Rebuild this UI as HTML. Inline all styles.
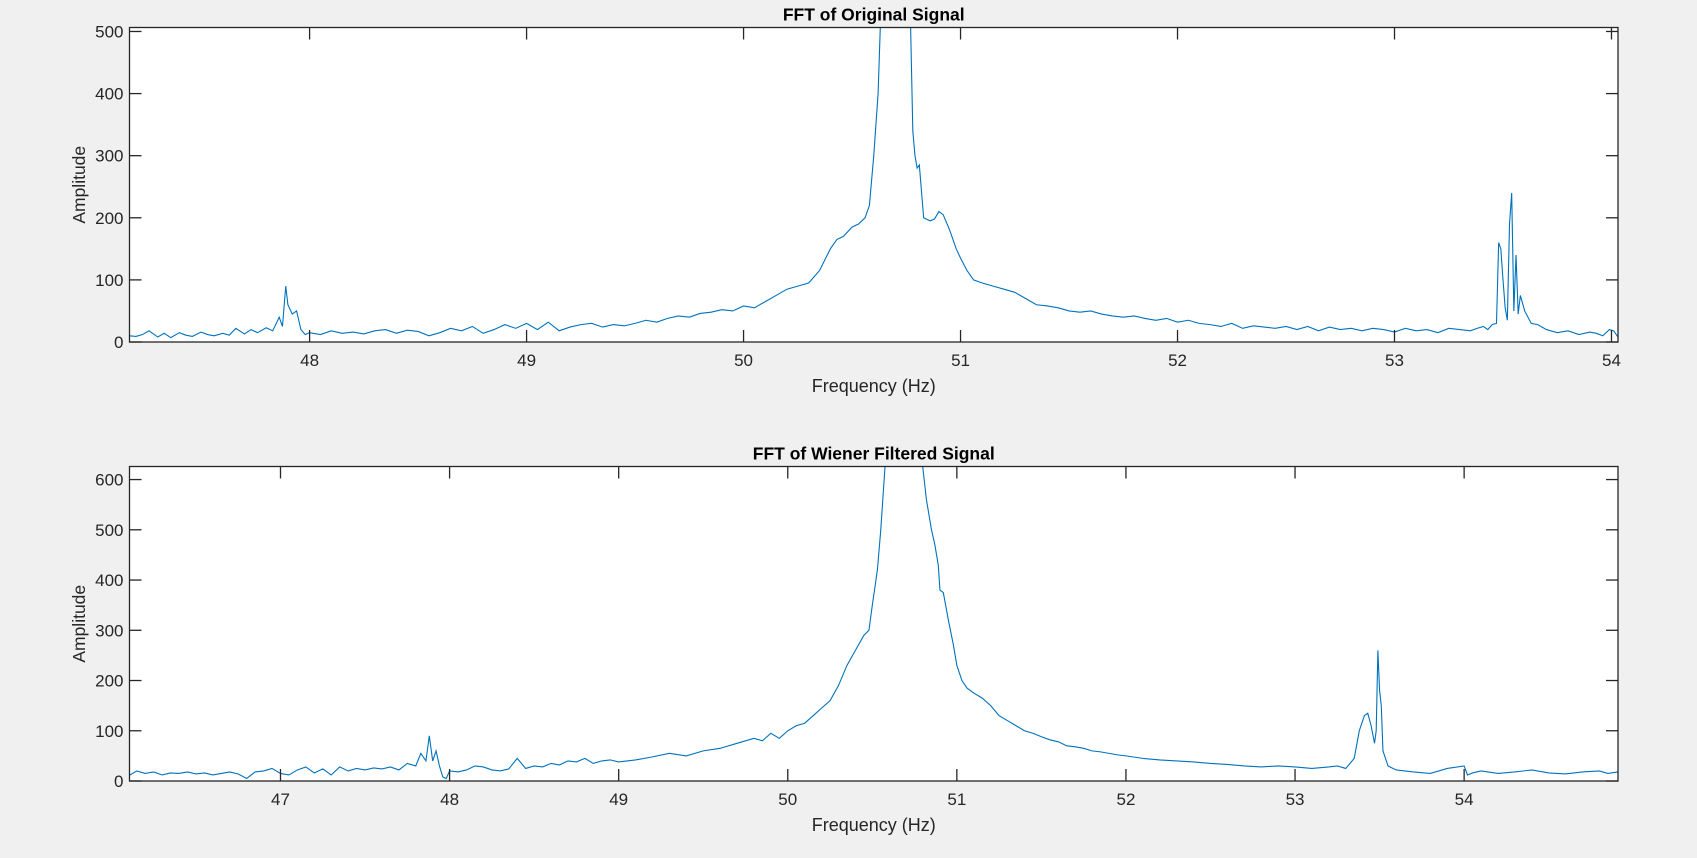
<!DOCTYPE html>
<html><head><meta charset="utf-8">
<style>
html,body{margin:0;padding:0;background:#f0f0f0;}
svg{display:block;font-family:"Liberation Sans",Arial,sans-serif;}
</style></head>
<body>
<svg id="fig" width="1697" height="858" viewBox="0 0 1697 858" xmlns="http://www.w3.org/2000/svg">
<rect x="0" y="0" width="1697" height="858" fill="#f0f0f0"/>
<g id="p1"></g>
<g id="p2"></g>
</svg>
<script>
// ---- Top chart data: FFT of Original Signal ----
const origFreq = [47.17,47.2,47.23,47.26,47.3,47.33,47.36,47.4,47.43,47.46,47.5,47.53,47.56,47.6,47.63,47.66,47.7,47.73,47.76,47.8,47.83,47.86,47.875,47.89,47.9,47.92,47.94,47.96,47.98,48.0,48.05,48.1,48.15,48.2,48.25,48.3,48.35,48.4,48.45,48.5,48.55,48.6,48.65,48.7,48.75,48.8,48.85,48.9,48.95,49.0,49.05,49.1,49.15,49.2,49.25,49.3,49.35,49.4,49.45,49.5,49.55,49.6,49.65,49.7,49.75,49.8,49.85,49.9,49.95,50.0,50.05,50.1,50.15,50.2,50.25,50.3,50.35,50.4,50.43,50.46,50.5,50.53,50.56,50.58,50.6,50.62,50.63,50.65,50.7,50.75,50.77,50.78,50.79,50.8,50.81,50.83,50.86,50.88,50.9,50.92,50.95,50.98,51.0,51.03,51.06,51.1,51.15,51.2,51.25,51.3,51.35,51.4,51.45,51.5,51.55,51.6,51.65,51.7,51.75,51.8,51.85,51.9,51.95,52.0,52.05,52.1,52.15,52.2,52.25,52.3,52.35,52.4,52.45,52.5,52.55,52.6,52.65,52.7,52.75,52.8,52.85,52.9,52.95,53.0,53.05,53.1,53.15,53.2,53.25,53.3,53.35,53.38,53.41,53.43,53.45,53.47,53.48,53.49,53.5,53.51,53.52,53.53,53.54,53.55,53.56,53.57,53.58,53.6,53.63,53.66,53.7,53.75,53.8,53.85,53.9,53.93,53.96,53.99,54.01,54.03];
const origAmp = [10,9,12,18,8,14,7,15,11,9,16,12,10,14,11,22,13,20,15,23,18,40,25,90,60,45,50,20,12,15,12,18,14,16,13,18,20,14,19,17,10,15,22,18,25,14,20,28,22,30,20,32,18,24,28,30,24,28,26,30,35,32,38,42,40,46,48,52,50,58,55,65,75,85,90,95,115,150,165,170,185,190,200,220,300,400,505,1200,1400,1200,505,340,300,280,285,200,195,198,210,205,180,150,135,115,100,95,90,85,80,70,60,58,55,50,48,50,45,42,40,42,38,35,38,32,35,30,28,25,30,22,26,24,22,25,20,25,18,24,20,22,18,22,20,16,22,18,20,15,22,20,18,22,25,20,28,30,160,150,100,55,35,190,240,50,140,45,75,50,30,28,20,15,18,12,16,14,10,20,18,8];
// ---- Bottom chart data: FFT of Wiener Filtered Signal ----
const wienFreq = [46.11,46.15,46.2,46.25,46.3,46.35,46.4,46.45,46.5,46.55,46.6,46.65,46.7,46.75,46.8,46.85,46.9,46.95,47.0,47.05,47.1,47.15,47.2,47.25,47.3,47.35,47.4,47.45,47.5,47.55,47.6,47.65,47.7,47.75,47.8,47.83,47.86,47.88,47.9,47.92,47.94,47.96,47.98,48.0,48.05,48.1,48.15,48.2,48.25,48.3,48.35,48.4,48.45,48.5,48.55,48.6,48.65,48.7,48.75,48.8,48.85,48.9,48.95,49.0,49.1,49.2,49.3,49.4,49.5,49.6,49.7,49.8,49.85,49.9,49.95,50.0,50.05,50.1,50.15,50.2,50.25,50.3,50.35,50.4,50.45,50.48,50.5,50.53,50.55,50.58,50.6,50.62,50.65,50.7,50.75,50.77,50.79,50.8,50.82,50.85,50.87,50.89,50.9,50.92,50.95,50.98,51.0,51.03,51.06,51.1,51.15,51.2,51.25,51.3,51.35,51.4,51.45,51.5,51.55,51.6,51.65,51.7,51.75,51.8,51.85,51.9,51.95,52.0,52.1,52.2,52.3,52.4,52.5,52.6,52.7,52.8,52.9,53.0,53.1,53.2,53.25,53.3,53.35,53.38,53.41,53.43,53.45,53.47,53.48,53.49,53.5,53.51,53.52,53.55,53.58,53.6,53.65,53.7,53.8,53.9,54.0,54.02,54.05,54.1,54.2,54.3,54.4,54.5,54.6,54.7,54.8,54.85,54.91];
const wienAmp = [12,20,15,18,12,16,15,18,14,16,12,15,18,14,5,18,20,25,15,12,22,28,16,24,12,28,20,25,22,26,24,28,22,35,30,55,40,90,40,60,30,8,5,20,18,22,30,28,22,20,24,45,25,30,28,35,32,40,38,45,35,40,42,38,42,48,55,50,60,65,75,85,80,95,85,100,110,115,130,145,160,190,230,260,290,300,350,420,500,650,850,1100,1300,1400,1300,1000,650,620,560,500,470,430,380,375,320,270,230,200,185,175,165,150,130,120,110,100,95,88,82,78,70,68,65,60,58,55,52,50,45,42,40,38,35,33,30,28,30,28,25,28,30,25,45,100,130,135,110,75,100,260,180,150,60,30,25,22,20,18,15,25,30,12,16,20,15,18,22,16,14,18,20,15,18];

const x1Ticks = [48,49,50,51,52,53,54];
const y1Ticks = [0,100,200,300,400,500];
const x2Ticks = [47,48,49,50,51,52,53,54];
const y2Ticks = [0,100,200,300,400,500,600];

const NS = 'http://www.w3.org/2000/svg';
function mk(tag, attrs, parent){
  const e = document.createElementNS(NS, tag);
  for (const k in attrs) e.setAttribute(k, attrs[k]);
  parent.appendChild(e);
  return e;
}
function drawChart(g, cfg){
  const L=cfg.L,R=cfg.R,T=cfg.T,B=cfg.B;
  const sx = v => L + (v - cfg.xmin)/(cfg.xmax - cfg.xmin)*(R-L);
  const sy = v => B - (v - cfg.ymin)/(cfg.ymax - cfg.ymin)*(B-T);
  const bg = mk('rect',{x:L,y:T,width:R-L,height:B-T,fill:'#fff'},g);
  
  
  const cp = 'clip'+cfg.id;
  const defs = mk('defs',{},g);
  const clip = mk('clipPath',{id:cp},defs);
  mk('rect',{x:L,y:T,width:R-L,height:B-T},clip);
  let d='';
  cfg.xs.forEach((f,i)=>{ d += (i?'L':'M') + sx(f).toFixed(2) + ',' + sy(cfg.ys[i]).toFixed(2); });
  const line = mk('path',{d:d,fill:'none',stroke:'#0072bd',"stroke-width":1.1,"clip-path":'url(#'+cp+')'},g);
  
  
  const frame = mk('rect',{x:L,y:T,width:R-L,height:B-T,fill:'none',stroke:'#262626',"stroke-width":1.3},g);
  
  
  cfg.xt.forEach(v=>{
    const x = sx(v);
    mk('line',{x1:x,x2:x,y1:B,y2:B-12,stroke:'#262626',"stroke-width":1.3},g);
    mk('line',{x1:x,x2:x,y1:T,y2:T+12,stroke:'#262626',"stroke-width":1.3},g);
    const t = mk('text',{x:x,y:B+24,"text-anchor":'middle',"font-size":17,fill:'#262626'},g);
    t.textContent = v;
    
    
  });
  cfg.yt.forEach(v=>{
    const y = sy(v);
    mk('line',{x1:L,x2:L+12,y1:y,y2:y,stroke:'#262626',"stroke-width":1.3},g);
    mk('line',{x1:R,x2:R-12,y1:y,y2:y,stroke:'#262626',"stroke-width":1.3},g);
    const t = mk('text',{x:L-6,y:y+6,"text-anchor":'end',"font-size":17,fill:'#262626'},g);
    t.textContent = v;
    
    
  });
  const title = mk('text',{x:(L+R)/2,y:T-7,"text-anchor":'middle',"font-size":17.5,"font-weight":'bold',fill:'#000'},g);
  title.textContent = cfg.title;
  
  
  const xl = mk('text',{x:(L+R)/2,y:B+50,"text-anchor":'middle',"font-size":18,fill:'#262626'},g);
  xl.textContent = 'Frequency (Hz)';
  
  
  const cy=(T+B)/2;
  const yl = mk('text',{x:85,y:cy,"text-anchor":'middle',"font-size":17.5,fill:'#262626',transform:'rotate(-90 85 '+cy+')'},g);
  yl.textContent = 'Amplitude';
  
  
}
drawChart(document.getElementById('p1'),{id:1,L:129.5,R:1618,T:27.5,B:342,xmin:47.17,xmax:54.03,ymin:0,ymax:506.4,xs:origFreq,ys:origAmp,xt:x1Ticks,yt:y1Ticks,title:'FFT of Original Signal'});
drawChart(document.getElementById('p2'),{id:2,L:129.5,R:1618,T:466.5,B:781,xmin:46.107,xmax:54.91,ymin:0,ymax:626,xs:wienFreq,ys:wienAmp,xt:x2Ticks,yt:y2Ticks,title:'FFT of Wiener Filtered Signal'});
</script>
</body></html>
